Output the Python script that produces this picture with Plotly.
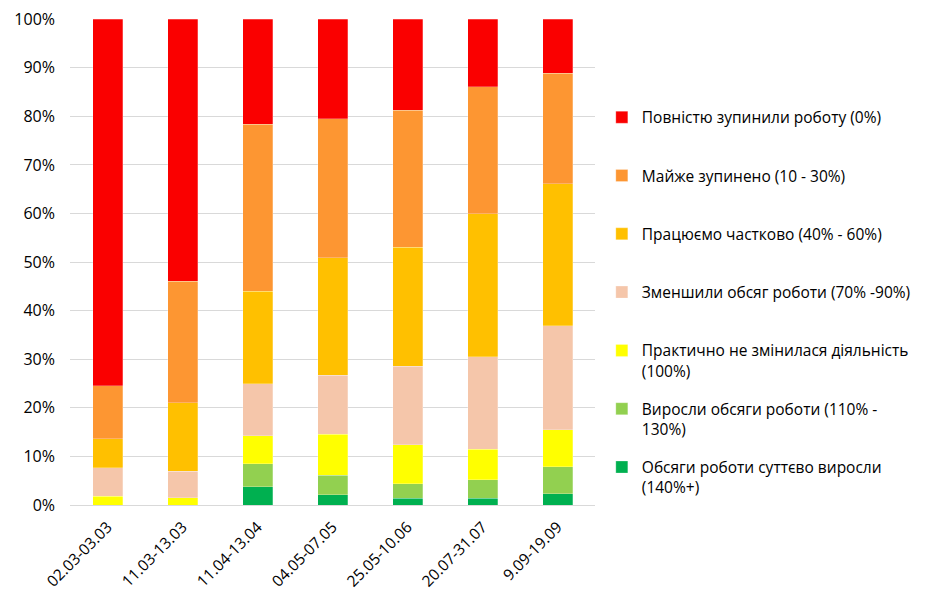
import plotly.graph_objects as go

categories = ["02.03-03.03", "11.03-13.03", "11.04-13.04", "04.05-07.05",
              "25.05-10.06", "20.07-31.07", "9.09-19.09"]

series_names = [
    "Обсяги роботи суттєво виросли<br>(140%+)",
    "Виросли обсяги роботи (110% -<br>130%)",
    "Практично не змінилася діяльність<br>(100%)",
    "Зменшили обсяг роботи (70% -90%)<br> ",
    "Працюємо частково (40% - 60%)<br> ",
    "Майже зупинено (10 - 30%)<br> ",
    "Повністю зупинили роботу (0%)<br> ",
]

grew_strongly = [0.0, 0.0, 3.8, 2.1, 1.4, 1.4, 2.3]
grew = [0.0, 0.0, 4.7, 4.0, 3.0, 3.8, 5.6]
unchanged = [1.8, 1.5, 5.8, 8.5, 8.0, 6.3, 7.6]
reduced = [5.9, 5.4, 10.7, 12.1, 16.2, 19.0, 21.4]
partial = [5.9, 14.2, 19.0, 24.2, 24.5, 29.5, 29.2]
almost_stopped = [10.9, 25.0, 34.4, 28.6, 28.2, 26.1, 22.8]
stopped = [75.5, 53.9, 21.6, 20.5, 18.7, 13.9, 11.1]

series_values = [grew_strongly, grew, unchanged, reduced, partial, almost_stopped, stopped]
colors = ["#00B050", "#92D050", "#FFFF00", "#F5C6AA", "#FFC000", "#FD9632", "#FA0000"]

y_ticks = [0, 10, 20, 30, 40, 50, 60, 70, 80, 90, 100]
y_tick_labels = [f"{t}%" for t in y_ticks]

fig = go.Figure()
n = len(series_names)
for i, (name, vals, col) in enumerate(zip(series_names, series_values, colors)):
    fig.add_trace(go.Bar(
        x=categories, y=vals, name=name,
        marker=dict(color=col, line=dict(color="rgba(255,255,255,0.5)", width=0.5)),
        legendgroup=f"g{i}",
        legendrank=n - i,
    ))

# page body has an 8px margin, so the figure is offset by 8px
fig.update_layout(
    barmode="stack",
    barnorm="percent",
    bargap=0.6,
    width=918, height=589,
    margin=dict(l=62, r=331, t=11, b=92, autoexpand=False),
    plot_bgcolor="white", paper_bgcolor="white",
    font=dict(family="Open Sans", size=16, color="#000000"),
    legend=dict(
        traceorder="grouped",
        tracegroupgap=15,
        valign="top",
        x=1.013, xanchor="left",
        y=0.832, yanchor="top",
        font=dict(family="Open Sans", size=15.5, color="#000000"),
        itemwidth=30,
    ),
    showlegend=True,
)
fig.update_yaxes(
    range=[0, 100.05], tickvals=y_ticks, ticktext=y_tick_labels,
    showgrid=True, gridcolor="#D9D9D9", gridwidth=1,
    zeroline=True, zerolinecolor="#D9D9D9", zerolinewidth=1,
    ticks="", ticklen=0, tickfont=dict(size=16), automargin=False,
    ticklabelstandoff=14, ticklabeloverflow="allow",
)
fig.update_xaxes(
    tickangle=-45, tickfont=dict(size=15.5), showgrid=False, showline=False,
    automargin=False, ticklabelstandoff=9, ticklabeloverflow="allow",
)

fig.write_html("out.html")
